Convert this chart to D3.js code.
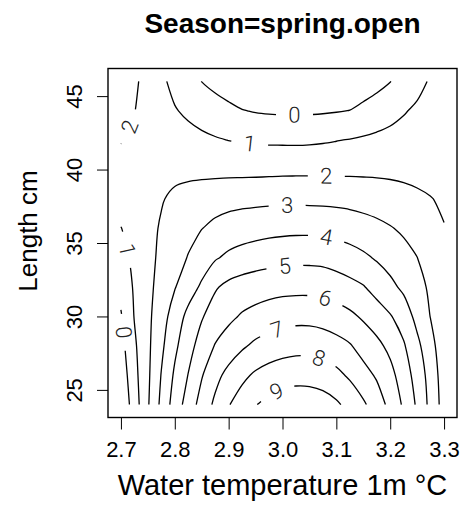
<!DOCTYPE html>
<html>
<head>
<meta charset="utf-8">
<script src="https://cdn.jsdelivr.net/npm/d3@7"></script>
<style>
  html, body { margin: 0; padding: 0; background: #fff; }
  svg { display: block; }
</style>
</head>
<body>
<svg id="chart" width="470" height="505"></svg>
<script>
// Fitted surface on a regular grid: water temperature (columns) x length (rows)
const temps = [2.700, 2.725, 2.750, 2.775, 2.800, 2.825, 2.850, 2.875, 2.900, 2.925,
               2.950, 2.975, 3.000, 3.025, 3.050, 3.075, 3.100, 3.125, 3.150, 3.175,
               3.200, 3.225, 3.250, 3.275, 3.300];
const lengths = [24, 26, 28, 30, 32, 34, 36, 38, 40, 42, 44, 46];

// One row per length, one value per temperature
const zRows = [
  [-0.85, 0.50, 1.90, 3.23, 4.45, 5.43, 6.39, 7.20, 7.95, 8.45, 8.96, 9.28, 9.50, 9.62, 9.60, 9.45, 9.15, 8.70, 8.15, 7.50, 6.72, 5.85, 4.85, 3.70, 2.60],
  [-0.62, 0.70, 1.83, 3.04, 4.15, 5.03, 5.93, 6.70, 7.30, 7.78, 8.15, 8.40, 8.56, 8.64, 8.62, 8.50, 8.25, 7.85, 7.35, 6.88, 6.30, 5.50, 4.60, 3.60, 2.50],
  [-0.34, 0.85, 1.80, 2.80, 3.80, 4.65, 5.40, 6.05, 6.45, 6.86, 7.20, 7.42, 7.58, 7.67, 7.67, 7.55, 7.35, 7.08, 6.62, 6.25, 5.75, 5.10, 4.25, 3.31, 2.42],
  [-0.08, 1.04, 1.78, 2.58, 3.45, 4.27, 4.92, 5.45, 5.80, 6.10, 6.30, 6.48, 6.62, 6.69, 6.68, 6.60, 6.42, 6.20, 5.87, 5.48, 5.07, 4.55, 3.70, 2.97, 2.32],
  [ 0.28, 1.12, 1.75, 2.35, 2.95, 3.55, 4.15, 4.90, 5.25, 5.43, 5.55, 5.64, 5.70, 5.72, 5.72, 5.67, 5.52, 5.30, 5.06, 4.65, 4.25, 3.80, 3.30, 2.85, 2.22],
  [ 0.64, 1.25, 1.72, 2.20, 2.60, 3.05, 3.50, 3.90, 4.20, 4.40, 4.53, 4.63, 4.70, 4.74, 4.74, 4.70, 4.55, 4.38, 4.17, 3.90, 3.60, 3.32, 3.01, 2.55, 2.15],
  [ 0.98, 1.35, 1.70, 2.10, 2.40, 2.70, 2.98, 3.20, 3.38, 3.50, 3.60, 3.68, 3.73, 3.76, 3.76, 3.73, 3.66, 3.55, 3.40, 3.24, 3.06, 2.85, 2.60, 2.35, 2.03],
  [ 1.35, 1.50, 1.68, 1.93, 2.20, 2.40, 2.55, 2.64, 2.70, 2.74, 2.76, 2.78, 2.79, 2.79, 2.78, 2.76, 2.73, 2.69, 2.62, 2.54, 2.43, 2.30, 2.16, 2.03, 1.88],
  [ 1.71, 1.71, 1.72, 1.73, 1.73, 1.72, 1.71, 1.71, 1.72, 1.72, 1.73, 1.75, 1.77, 1.78, 1.79, 1.79, 1.79, 1.79, 1.79, 1.79, 1.78, 1.76, 1.73, 1.70, 1.67],
  [ 2.04, 1.85, 1.70, 1.56, 1.42, 1.30, 1.18, 1.08, 0.99, 0.93, 0.88, 0.85, 0.84, 0.83, 0.85, 0.90, 0.97, 1.04, 1.12, 1.20, 1.28, 1.37, 1.46, 1.54, 1.62],
  [ 2.30, 2.02, 1.69, 1.38, 1.06, 0.84, 0.64, 0.44, 0.24, 0.04, -0.06, -0.11, -0.13, -0.14, -0.13, -0.10, -0.05, 0.02, 0.25, 0.48, 0.70, 0.93, 1.15, 1.35, 1.55],
  [ 2.55, 2.15, 1.68, 1.17, 0.75, 0.375, -0.01, -0.29, -0.54, -0.75, -0.90, -1.02, -1.09, -1.11, -1.09, -1.02, -0.91, -0.76, -0.56, -0.31, -0.02, 0.35, 0.72, 1.10, 1.40]
];

const levels = [0, 1, 2, 3, 4, 5, 6, 7, 8, 9];
const xTicks = [2.7, 2.8, 2.9, 3.0, 3.1, 3.2, 3.3];
const yTicks = [25, 30, 35, 40, 45];

// Where each contour label sits (temperature, length)
const labelSpots = [
  { level: 0, t: 3.022, len: 43.7 },
  { level: 1, t: 2.939, len: 41.8 },
  { level: 2, t: 3.081, len: 39.5 },
  { level: 3, t: 3.009, len: 37.4 },
  { level: 4, t: 3.081, len: 35.3 },
  { level: 5, t: 3.004, len: 33.3 },
  { level: 6, t: 3.078, len: 31.0 },
  { level: 7, t: 2.991, len: 29.0 },
  { level: 8, t: 3.065, len: 26.9 },
  { level: 9, t: 2.991, len: 24.7 },
  { level: 2, t: 2.717, len: 42.9 },
  { level: 1, t: 2.707, len: 34.5 },
  { level: 0, t: 2.704, len: 28.9 }
];

const FONT = '"Liberation Sans", Arial, Helvetica, sans-serif';
const svg = d3.select("#chart");
const plot = { left: 108, right: 457, top: 68.5, bottom: 417.5 };

// Plot range extends the data range by 4% on each side
const xPad = (d3.max(temps) - d3.min(temps)) * 0.04;
const yPad = (d3.max(lengths) - d3.min(lengths)) * 0.04;
const x = d3.scaleLinear()
  .domain([d3.min(temps) - xPad, d3.max(temps) + xPad])
  .range([plot.left, plot.right]);
const y = d3.scaleLinear()
  .domain([d3.min(lengths) - yPad, d3.max(lengths) + yPad])
  .range([plot.bottom, plot.top]);

// Grid index -> data value
const nx = temps.length, ny = lengths.length;
const colToT = d3.scaleLinear().domain(d3.range(nx)).range(temps);
const rowToL = d3.scaleLinear().domain(d3.range(ny)).range(lengths);
const toPx = p => [x(colToT(p[0] - 0.5)), y(rowToL(p[1] - 0.5))];

const values = zRows.flat();
const gen = d3.contours().size([nx, ny]).smooth(true);
const eps = 1e-6;
const inside = p => p[0] >= 0.5 - eps && p[0] <= nx - 0.5 + eps &&
                    p[1] >= 0.5 - eps && p[1] <= ny - 0.5 + eps;

// Turn the filled bands into open iso-lines, dropping the parts that run along the grid border
const isoLines = [];
levels.forEach(level => {
  const mp = gen.contour(values, level);
  mp.coordinates.forEach(poly => poly.forEach(ring => {
    let pts = ring.slice();
    const f = pts[0], l = pts[pts.length - 1];
    if (f[0] === l[0] && f[1] === l[1]) pts.pop();
    const flags = pts.map(inside);
    if (flags.every(Boolean)) {
      isoLines.push({ level, pts: pts.concat([pts[0]]).map(toPx), closed: true });
      return;
    }
    const s = flags.indexOf(false);
    const rp = pts.slice(s).concat(pts.slice(0, s));
    const rf = flags.slice(s).concat(flags.slice(0, s));
    let cur = [];
    rp.forEach((p, i) => {
      if (rf[i]) cur.push(p);
      else { if (cur.length > 1) isoLines.push({ level, pts: cur.map(toPx) }); cur = []; }
    });
    if (cur.length > 1) isoLines.push({ level, pts: cur.map(toPx) });
  }));
});

const lineGen = d3.line().curve(d3.curveCatmullRom.alpha(0.5));

const gLines = svg.append("g");
const paths = gLines.selectAll("path")
  .data(isoLines)
  .join("path")
  .attr("d", d => lineGen(d.pts))
  .attr("fill", "none")
  .attr("stroke", "#000")
  .attr("stroke-width", 1.3);

// Place labels on their lines and open a gap in the line under each
const GAP = 37;
const labels = [];
labelSpots.forEach(s => {
  const tx = x(s.t), ty = y(s.len);
  let best = null;
  paths.filter(d => d.level === s.level).each(function (d) {
    const total = this.getTotalLength();
    for (let L = 0; L <= total; L += 0.5) {
      const p = this.getPointAtLength(L);
      const dd = (p.x - tx) ** 2 + (p.y - ty) ** 2;
      if (!best || dd < best.dd) best = { dd, L, node: this, d, total };
    }
  });
  if (!best) return;
  const { node, L, total, d } = best;
  const p = node.getPointAtLength(L);
  const a = node.getPointAtLength(Math.max(0, L - 4));
  const b = node.getPointAtLength(Math.min(total, L + 4));
  let ang = Math.atan2(b.y - a.y, b.x - a.x) * 180 / Math.PI;
  if (ang > 90) ang -= 180;
  if (ang < -90) ang += 180;
  (d.gaps = d.gaps || []).push([Math.max(0, L - GAP / 2), Math.min(total, L + GAP / 2)]);
  d.total = total;
  labels.push({ text: String(s.level), x: p.x, y: p.y, ang });
});

paths.each(function (d) {
  if (!d.gaps) return;
  const gaps = d.gaps.sort((u, v) => u[0] - v[0]);
  const arr = [];
  let pos = 0;
  gaps.forEach(g => {
    arr.push(Math.max(0, g[0] - pos), g[1] - g[0]);
    pos = g[1];
  });
  arr.push(Math.max(0, d.total - pos), d.total + 10);
  d3.select(this).attr("stroke-dasharray", arr.join(" "));
});

svg.append("g").selectAll("text")
  .data(labels)
  .join("text")
  .attr("transform", d => `translate(${d.x},${d.y}) rotate(${d.ang})`)
  .attr("text-anchor", "middle")
  .attr("dominant-baseline", "central")
  .attr("font-family", "Roboto, Lato, 'DejaVu Sans', sans-serif")
  .attr("font-weight", 300)
  .attr("font-size", 22)
  .attr("fill", "#222")
  .text(d => d.text);

// Frame
svg.append("rect")
  .attr("x", plot.left).attr("y", plot.top)
  .attr("width", plot.right - plot.left).attr("height", plot.bottom - plot.top)
  .attr("fill", "none").attr("stroke", "#000").attr("stroke-width", 1.4);

// Axes
svg.append("g")
  .attr("transform", `translate(0,${plot.bottom})`)
  .call(d3.axisBottom(x).tickValues(xTicks).tickFormat(d3.format(".1f")).tickSize(12).tickPadding(12))
  .call(g => g.select(".domain").remove())
  .attr("font-family", FONT).attr("font-size", 22)
  .call(g => g.selectAll("text").attr("fill", "#000"));

svg.append("g")
  .attr("transform", `translate(${plot.left},0)`)
  .call(d3.axisLeft(y).tickValues(yTicks).tickSize(11))
  .call(g => g.select(".domain").remove())
  .attr("font-family", FONT).attr("font-size", 22)
  .call(g => g.selectAll("text")
    .attr("transform", "rotate(-90)")
    .attr("x", 0).attr("y", -26).attr("dy", null)
    .attr("text-anchor", "middle")
    .attr("fill", "#000"));

// Titles
svg.append("text")
  .attr("x", (plot.left + plot.right) / 2).attr("y", 33)
  .attr("text-anchor", "middle")
  .attr("font-family", FONT).attr("font-weight", "bold").attr("font-size", 28)
  .text("Season=spring.open");

svg.append("text")
  .attr("x", (plot.left + plot.right) / 2).attr("y", 495)
  .attr("text-anchor", "middle")
  .attr("font-family", FONT).attr("font-size", 29)
  .text("Water temperature 1m °C");

svg.append("text")
  .attr("transform", "translate(37,231) rotate(-90)")
  .attr("text-anchor", "middle")
  .attr("font-family", FONT).attr("font-size", 26)
  .text("Length cm");
</script>
</body>
</html>
